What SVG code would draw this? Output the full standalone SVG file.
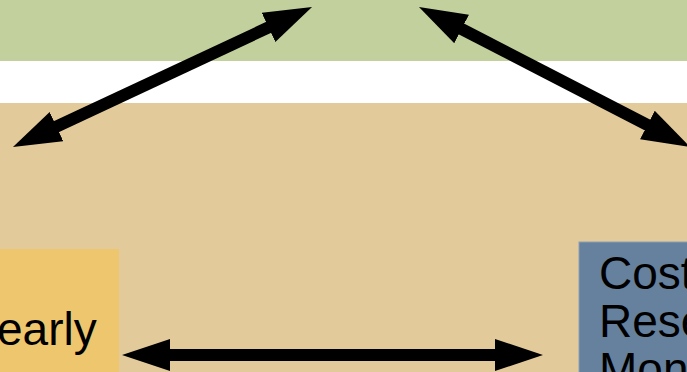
<svg xmlns="http://www.w3.org/2000/svg" width="687" height="372" viewBox="0 0 687 372">
  <style>
    .label { font-family: "Liberation Sans", Arial, sans-serif; font-size: 46px; fill: #000; }
    .conn { stroke: #000; stroke-width: 12; fill: none; marker-start: url(#head); marker-end: url(#head); }
  </style>
  <defs>
    <marker id="head" markerUnits="userSpaceOnUse" viewBox="0 -17 50 34" markerWidth="50" markerHeight="34" refX="8" refY="0" orient="auto-start-reverse">
      <path d="M0,-16 L48,0 L0,16 z" fill="#000"/>
    </marker>
  </defs>

  <!-- background bands -->
  <rect x="0" y="0" width="687" height="61" fill="#C1D09D"/>
  <rect x="0" y="61" width="687" height="42" fill="#FFFFFF"/>
  <rect x="0" y="103" width="687" height="269" fill="#E3CA9A"/>

  <g id="node-early">
    <rect x="-10" y="249" width="129" height="140" fill="#EDC66D"/>
    <text class="label" x="-3" y="345">early</text>
  </g>

  <g id="node-cost">
    <rect x="579" y="242" width="120" height="150" fill="#65819D" stroke="#8AA0B4" stroke-width="1"/>
    <text class="label" x="599" y="289">Cost</text>
    <text class="label" x="599" y="337">Rese</text>
    <text class="label" x="599" y="385">Mon</text>
  </g>

  <g id="connectors">
    <path class="conn" d="M49.2,130 L275.8,24"/>
    <path class="conn" d="M454.5,25.4 L654.5,128.6"/>
    <path class="conn" d="M162,355 L503,355"/>
  </g>
</svg>
